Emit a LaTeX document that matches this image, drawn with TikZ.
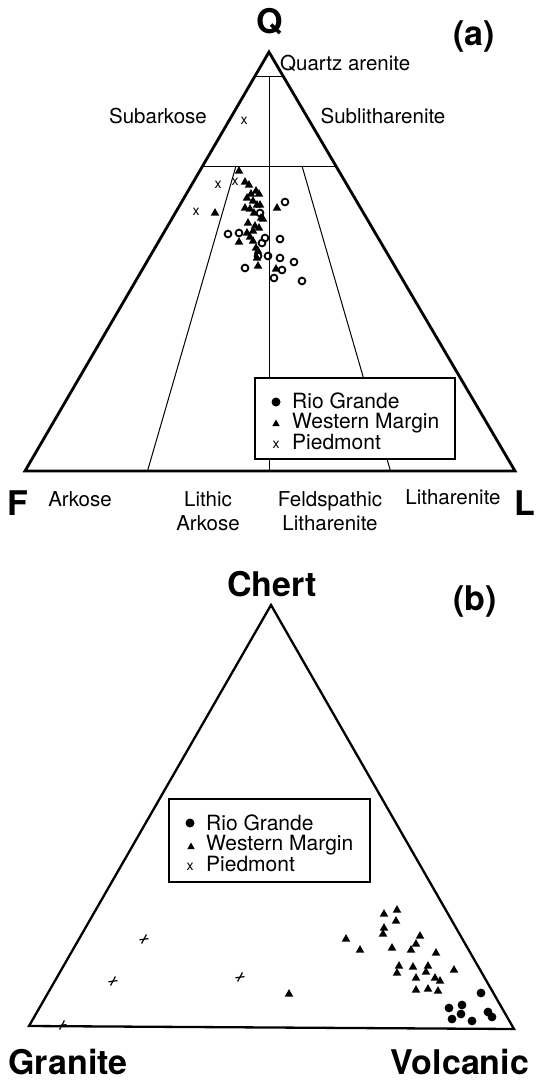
\documentclass[tikz,border=0pt]{standalone}
\usepackage{fontspec}
\setmainfont{TeX Gyre Heros}
\usetikzlibrary{positioning}

\tikzset{
  apexlab/.style={font=\fontsize{34}{34}\selectfont\bfseries, inner sep=0pt, anchor=base},
  fieldlab/.style={font=\fontsize{20.5}{24.5}\selectfont, inner sep=0pt, anchor=base},
  fieldtwo/.style={fieldlab, align=center, anchor=north},
  keylab/.style={font=\fontsize{21}{21}\selectfont, inner sep=0pt, anchor=base west},
  xlet/.style={font=\fontsize{14}{14}\selectfont, inner sep=0pt},
  divline/.style={line width=1pt},
  keybox/.style={draw, fill=white, line width=2.2pt},
  wmtri/.style={fill=black},
  rgopen/.style={draw, line width=1.8pt},
  pdcross/.style={draw, line width=1.2pt}
}

\begin{document}
\begin{tikzpicture}[x=1pt,y=-1pt]
  \useasboundingbox (0,0) rectangle (538,1082);
  % Panel (a): QFL triangle with Folk fields
  \coordinate (Qa)   at (269,52);
  \coordinate (Fa)   at (25,471);
  \coordinate (La)   at (515,471);
  \coordinate (Q95l) at (255,76);
  \coordinate (Q95r) at (283,76);
  \coordinate (Q95m) at (269,76);
  \coordinate (Q75l) at (202,166);
  \coordinate (Q75r) at (336,166);
  \coordinate (LA1)  at (236,166);
  \coordinate (LA2)  at (147.5,471);
  \coordinate (FL1)  at (302,166);
  \coordinate (FL2)  at (390.5,471);
  \coordinate (Mid)  at (269,471);

  \draw[divline] (Q95l) -- (Q95r);
  \draw[divline] (Q75l) -- (Q75r);
  \draw[divline] (Q95m) -- (Mid);
  \draw[divline] (LA1) -- (LA2);
  \draw[divline] (FL1) -- (FL2);
  \draw[line width=2.8pt] (Qa) -- (Fa) -- (La) -- cycle;

  \foreach \x/\y in {239/170,245/181,249/184,256/190,259/193,251/193,247/197,253/200,
      257/204,245/207,260/204,250/208,263/218,215/212,277/207,254/212,261/217,248/222,
      255/225,259/227,253/230,247/232,253/240,239/241,250/236,256/247,258/250,257/257,
      258/265,276/268}
    \fill[wmtri,shift={(\x,\y)}] (-4.3,3.7) -- (4.3,3.7) -- (0,-3.9) -- cycle;
  \foreach \x/\y in {285/202,260/213,228/234,239/233,265/238,280/239,262/243,258/256,
      268/256,280/258,294/262,245/268,282/270,274/278,302/281}
    \draw[rgopen] (\x,\y) circle (3.4);
  \foreach \x/\y [count=\i] in {244/121,218/185,235/182,196/212}
    \node[xlet] (pa\i) at (\x,\y) {x};

  \node[apexlab] (labQ) at (270,33) {Q};
  \node[apexlab] (laba) at (474,45) {(a)};
  \node[apexlab] (labF) at (18,515) {F};
  \node[apexlab] (labL) at (525,515) {L};
  \node[fieldlab, anchor=base west] (qa) at (280,70) {Quartz arenite};
  \node[fieldlab] (sa) at (158,123) {Subarkose};
  \node[fieldlab] (sl) at (383,123) {Sublitharenite};
  \node[fieldlab] (ar) at (80,506) {Arkose};
  \node[fieldtwo] (lak) at (208,491) {Lithic\\Arkose};
  \node[fieldtwo] (fli) at (330,491) {Feldspathic\\Litharenite};
  \node[fieldlab] (lit) at (453,504) {Litharenite};

  \draw[keybox] (255,378) rectangle (455,459);
  \fill (276,402) circle (4.5);
  \fill[shift={(276,423)}] (-3.8,3.2) -- (3.8,3.2) -- (0,-3.4) -- cycle;
  \node[xlet] (kxa) at (276,445) {x};
  \node[keylab] (ka1) at (292,408) {Rio Grande};
  \node[keylab] (ka2) at (292,428.5) {Western Margin};
  \node[keylab] (ka3) at (292,449) {Piedmont};

  % Panel (b): lithic fragments
  \coordinate (Cb) at (271,605);
  \coordinate (Gb) at (29,1026);
  \coordinate (Vb) at (514,1029);
  \draw[line width=2.3pt] (Cb) -- (Gb) -- (Vb) -- cycle;

  \foreach \x/\y in {289/993,346/938,360/949,384/913,397/909,396/920,384/927,383/933,
      392/947,420/935,416/943,411/949,436/952,454/969,399/965,397/972,413/966,428/965,
      426/971,416/977,435/977,440/980,416/989,428/988,438/990}
    \fill[wmtri,shift={(\x,\y)}] (-4.3,3.7) -- (4.3,3.7) -- (0,-3.9) -- cycle;
  \foreach \x/\y in {481/993,449/1008,462/1005,461/1014,452/1019,472/1021,488/1012,492/1017}
    \fill (\x,\y) circle (4.4);
  \foreach \x/\y in {144/939,113/981,240/977,62/1025}
    \draw[pdcross,shift={(\x,\y)}] (-4.5,0.8) -- (4.5,-0.4) (-2.4,4.5) -- (2.4,-4.5);

  \node[apexlab] (labC) at (272,596) {Chert};
  \node[apexlab] (labb) at (475,610) {(b)};
  \node[apexlab] (labG) at (68,1074) {Granite};
  \node[apexlab] (labV) at (460,1074) {Volcanic};

  \draw[keybox, line width=2pt] (169,799) rectangle (370,882);
  \fill (190,823) circle (4.5);
  \fill[shift={(191,846)}] (-3.8,3.2) -- (3.8,3.2) -- (0,-3.4) -- cycle;
  \node[xlet] (kxb) at (190,867) {x};
  \node[keylab] (kb1) at (206,830) {Rio Grande};
  \node[keylab] (kb2) at (206,850.5) {Western Margin};
  \node[keylab] (kb3) at (206,871) {Piedmont};
\end{tikzpicture}
\end{document}
